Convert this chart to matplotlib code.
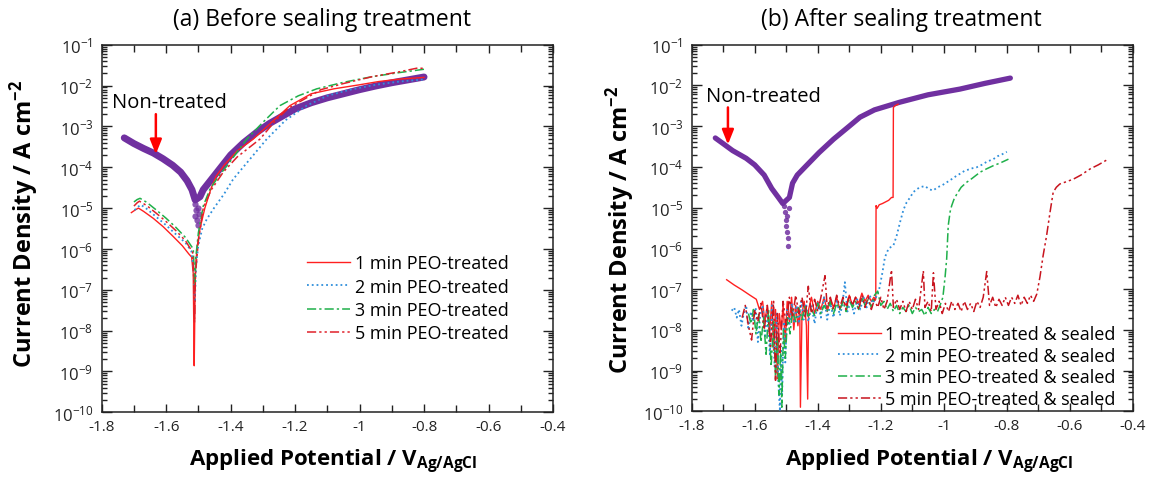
import matplotlib.pyplot as plt
from matplotlib.ticker import MultipleLocator, LogLocator, FuncFormatter, NullFormatter
import numpy as np

plt.rcParams['font.family'] = ['Open Sans', 'DejaVu Sans']
plt.rcParams['mathtext.default'] = 'regular'
plt.rcParams['axes.unicode_minus'] = False

# all curves stored as (potential V, log10 current density A/cm2)

# (a) before sealing
bare_a = [(-1.73, -3.28), (-1.70, -3.42), (-1.67, -3.54), (-1.64, -3.65), (-1.61, -3.79),
          (-1.58, -3.95), (-1.555, -4.12), (-1.535, -4.33), (-1.52, -4.55), (-1.51, -4.8),
          (-1.495, -4.72), (-1.485, -4.55), (-1.47, -4.4), (-1.45, -4.2), (-1.43, -4.0),
          (-1.40, -3.7), (-1.36, -3.4), (-1.32, -3.15), (-1.28, -2.93), (-1.24, -2.75),
          (-1.20, -2.57), (-1.15, -2.42), (-1.10, -2.3), (-1.05, -2.2), (-1.00, -2.1),
          (-0.95, -2.01), (-0.90, -1.93), (-0.85, -1.86), (-0.80, -1.79)]
bare_a_dip = [(-1.512, -4.9), (-1.508, -5.05), (-1.51, -5.2), (-1.505, -5.3),
              (-1.502, -5.42), (-1.498, -5.15), (-1.50, -5.0)]

peo1_a = [(-1.708, -5.11), (-1.695, -5.04), (-1.686, -5.0), (-1.67, -5.08), (-1.64, -5.25),
          (-1.61, -5.45), (-1.58, -5.68), (-1.55, -5.92), (-1.53, -6.12), (-1.521, -6.2),
          (-1.516, -6.6), (-1.513, -8.86), (-1.511, -7.5), (-1.509, -6.4), (-1.503, -5.9),
          (-1.495, -5.5), (-1.48, -5.0), (-1.46, -4.5), (-1.445, -4.22), (-1.42, -3.95),
          (-1.38, -3.6), (-1.33, -3.31), (-1.28, -2.95), (-1.216, -2.49), (-1.15, -2.2),
          (-1.08, -2.08), (-1.00, -1.98), (-0.94, -1.9), (-0.875, -1.84), (-0.80, -1.8)]
peo2_a = [(-1.698, -5.05), (-1.688, -4.97), (-1.678, -4.92), (-1.66, -5.02), (-1.63, -5.22),
          (-1.60, -5.42), (-1.57, -5.64), (-1.54, -5.85), (-1.522, -6.05), (-1.515, -6.5),
          (-1.511, -7.3), (-1.507, -6.4), (-1.50, -5.9), (-1.488, -5.5), (-1.474, -5.27),
          (-1.45, -4.98), (-1.42, -4.65), (-1.392, -4.29), (-1.34, -3.8), (-1.288, -3.31),
          (-1.23, -2.85), (-1.164, -2.49), (-1.10, -2.25), (-1.03, -2.1), (-0.95, -1.98),
          (-0.875, -1.9), (-0.80, -1.85)]
peo3_a = [(-1.70, -4.85), (-1.69, -4.79), (-1.681, -4.76), (-1.66, -4.86), (-1.63, -5.05),
          (-1.60, -5.25), (-1.57, -5.47), (-1.54, -5.72), (-1.516, -6.0), (-1.513, -6.5),
          (-1.511, -7.0), (-1.508, -6.2), (-1.50, -5.6), (-1.485, -4.95), (-1.465, -4.55),
          (-1.44, -4.25), (-1.41, -3.95), (-1.35, -3.31), (-1.30, -2.9), (-1.247, -2.49),
          (-1.19, -2.25), (-1.133, -2.08), (-1.05, -1.92), (-0.96, -1.78), (-0.875, -1.68),
          (-0.80, -1.6)]
peo5_a = [(-1.70, -4.95), (-1.69, -4.87), (-1.683, -4.83), (-1.66, -4.94), (-1.63, -5.13),
          (-1.60, -5.33), (-1.57, -5.55), (-1.54, -5.8), (-1.518, -6.08), (-1.514, -6.8),
          (-1.512, -7.8), (-1.509, -6.6), (-1.50, -5.8), (-1.485, -5.0), (-1.46, -4.55),
          (-1.423, -4.12), (-1.38, -3.75), (-1.309, -3.31), (-1.26, -2.85), (-1.22, -2.55),
          (-1.16, -2.28), (-1.12, -2.1), (-1.05, -1.95), (-0.96, -1.78), (-0.875, -1.66),
          (-0.82, -1.57), (-0.80, -1.58)]

# (b) after sealing
bare_b = [(-1.725, -3.29), (-1.70, -3.43), (-1.67, -3.6), (-1.627, -3.79), (-1.60, -3.95),
          (-1.57, -4.2), (-1.546, -4.53), (-1.525, -4.75), (-1.511, -4.9), (-1.49, -4.75),
          (-1.48, -4.4), (-1.465, -4.2), (-1.44, -4.0), (-1.396, -3.65), (-1.35, -3.32),
          (-1.30, -3.0), (-1.266, -2.78), (-1.22, -2.6), (-1.139, -2.41), (-1.05, -2.23),
          (-0.949, -2.09), (-0.87, -1.95), (-0.789, -1.82)]
bare_b_dip = [(-1.508, -4.95), (-1.505, -5.1), (-1.502, -5.3), (-1.50, -5.44),
              (-1.497, -5.6), (-1.495, -5.75), (-1.494, -5.93), (-1.498, -5.2), (-1.49, -5.0)]

peo1_b = [(-1.689, -6.77), (-1.665, -6.9), (-1.64, -7.02), (-1.615, -7.15), (-1.595, -7.25),
          (-1.585, -7.5), (-1.575, -7.3), (-1.568, -7.8), (-1.56, -7.4), (-1.553, -8.1),
          (-1.546, -7.3), (-1.54, -8.5), (-1.534, -7.5), (-1.528, -9.2), (-1.522, -7.6),
          (-1.516, -8.0), (-1.51, -7.4), (-1.503, -8.3), (-1.497, -7.3), (-1.49, -7.8),
          (-1.483, -7.2), (-1.476, -8.0), (-1.47, -7.4), (-1.463, -7.9), (-1.457, -7.5),
          (-1.455, -9.9), (-1.45, -7.6), (-1.443, -7.3), (-1.436, -7.9), (-1.432, -9.7),
          (-1.429, -7.5), (-1.42, -7.2), (-1.41, -7.6), (-1.40, -7.3), (-1.39, -7.5),
          (-1.38, -7.2), (-1.37, -7.55), (-1.36, -7.25), (-1.35, -7.45), (-1.34, -7.2),
          (-1.33, -7.5), (-1.32, -7.3), (-1.31, -7.4), (-1.30, -7.15), (-1.29, -7.4),
          (-1.28, -7.2), (-1.27, -7.35), (-1.26, -7.1), (-1.25, -7.3), (-1.24, -7.15),
          (-1.23, -7.3), (-1.222, -7.2), (-1.216, -7.25), (-1.215, -4.95), (-1.212, -5.02),
          (-1.205, -4.93), (-1.195, -4.9), (-1.185, -4.86), (-1.175, -4.82), (-1.166, -4.75),
          (-1.161, -4.75), (-1.160, -2.54), (-1.155, -2.5), (-1.145, -2.46)]
peo2_b = [(-1.673, -7.53), (-1.665, -7.45), (-1.657, -7.7), (-1.65, -7.5), (-1.642, -7.9),
          (-1.635, -7.6), (-1.627, -7.4), (-1.62, -8.0), (-1.612, -7.55), (-1.605, -7.8),
          (-1.597, -7.45), (-1.59, -8.3), (-1.582, -7.6), (-1.575, -7.4), (-1.567, -8.2),
          (-1.56, -7.5), (-1.552, -8.6), (-1.545, -7.4), (-1.537, -8.9), (-1.53, -7.6),
          (-1.525, -9.3), (-1.52, -10.0), (-1.517, -8.4), (-1.513, -9.6), (-1.508, -7.8),
          (-1.503, -8.8), (-1.497, -7.5), (-1.49, -7.9), (-1.482, -7.35), (-1.475, -7.8),
          (-1.467, -7.4), (-1.46, -7.85), (-1.452, -7.3), (-1.445, -7.75), (-1.437, -7.35),
          (-1.43, -7.8), (-1.42, -7.4), (-1.41, -7.85), (-1.40, -7.3), (-1.39, -7.7),
          (-1.38, -7.2), (-1.37, -7.75), (-1.36, -7.35), (-1.35, -7.7), (-1.34, -7.25),
          (-1.33, -7.65), (-1.322, -7.4), (-1.314, -6.83), (-1.306, -7.55), (-1.295, -7.3),
          (-1.285, -7.6), (-1.275, -7.25), (-1.265, -7.5), (-1.255, -7.2), (-1.245, -7.45),
          (-1.235, -7.15), (-1.225, -7.35), (-1.215, -7.2), (-1.205, -7.0), (-1.195, -6.6),
          (-1.187, -6.22), (-1.175, -6.0), (-1.160, -5.93), (-1.150, -5.7), (-1.139, -5.36),
          (-1.128, -5.05), (-1.118, -4.87), (-1.107, -4.75), (-1.097, -4.62), (-1.086, -4.55),
          (-1.076, -4.50), (-1.06, -4.47), (-1.046, -4.55), (-1.034, -4.58), (-1.02, -4.5),
          (-1.005, -4.45), (-0.991, -4.38), (-0.975, -4.3), (-0.96, -4.22), (-0.949, -4.17),
          (-0.935, -4.1), (-0.92, -4.06), (-0.908, -4.03), (-0.896, -4.01), (-0.88, -3.95),
          (-0.865, -3.88), (-0.853, -3.84), (-0.843, -3.81), (-0.83, -3.74), (-0.815, -3.69),
          (-0.80, -3.63)]
peo3_b = [(-1.62, -7.6), (-1.612, -7.85), (-1.604, -7.5), (-1.596, -8.1), (-1.588, -7.6),
          (-1.58, -8.3), (-1.572, -7.7), (-1.564, -8.6), (-1.556, -7.5), (-1.548, -8.9),
          (-1.54, -7.8), (-1.534, -9.2), (-1.528, -8.2), (-1.523, -9.6), (-1.518, -8.5),
          (-1.514, -9.9), (-1.509, -8.0), (-1.503, -8.7), (-1.496, -7.7), (-1.488, -8.1),
          (-1.48, -7.5), (-1.47, -7.8), (-1.46, -7.45), (-1.45, -7.75), (-1.44, -7.4),
          (-1.43, -7.7), (-1.42, -7.5), (-1.41, -7.65), (-1.40, -7.35), (-1.39, -7.6),
          (-1.38, -7.4), (-1.37, -7.55), (-1.36, -7.3), (-1.35, -7.6), (-1.34, -7.35),
          (-1.33, -7.5), (-1.32, -7.3), (-1.31, -7.55), (-1.30, -7.25), (-1.29, -7.45),
          (-1.28, -7.3), (-1.27, -7.5), (-1.26, -7.2), (-1.25, -7.4), (-1.24, -7.25),
          (-1.23, -7.45), (-1.22, -7.15), (-1.21, -7.05), (-1.20, -7.4), (-1.19, -7.3),
          (-1.18, -7.5), (-1.17, -7.35), (-1.16, -7.55), (-1.15, -7.4), (-1.14, -7.6),
          (-1.13, -7.45), (-1.12, -7.55), (-1.11, -7.4), (-1.10, -7.6), (-1.09, -7.45),
          (-1.08, -7.55), (-1.07, -7.5), (-1.06, -7.65), (-1.05, -7.45), (-1.04, -7.6),
          (-1.03, -7.5), (-1.02, -7.55), (-1.012, -7.4), (-1.003, -7.2), (-0.996, -6.7),
          (-0.991, -6.26), (-0.986, -5.44), (-0.98, -5.1), (-0.975, -4.95), (-0.968, -4.8),
          (-0.959, -4.67), (-0.945, -4.5), (-0.928, -4.38), (-0.91, -4.28), (-0.885, -4.13),
          (-0.865, -4.05), (-0.843, -3.97), (-0.82, -3.9), (-0.795, -3.81)]
peo5_b = [(-1.64, -7.7), (-1.63, -7.4), (-1.62, -7.9), (-1.61, -8.25), (-1.60, -7.5),
          (-1.59, -7.8), (-1.58, -7.35), (-1.57, -8.0), (-1.56, -7.4), (-1.55, -8.4),
          (-1.54, -7.3), (-1.534, -9.24), (-1.528, -7.6), (-1.52, -8.6), (-1.51, -7.3),
          (-1.50, -7.9), (-1.49, -7.2), (-1.48, -7.7), (-1.47, -7.15), (-1.46, -7.6),
          (-1.45, -7.2), (-1.44, -7.7), (-1.43, -6.93), (-1.42, -7.6), (-1.41, -7.25),
          (-1.40, -7.55), (-1.39, -7.2), (-1.377, -6.67), (-1.37, -7.45), (-1.36, -7.2),
          (-1.35, -7.5), (-1.34, -7.15), (-1.33, -7.45), (-1.32, -7.2), (-1.31, -7.5),
          (-1.30, -7.15), (-1.29, -7.4), (-1.28, -7.2), (-1.27, -7.5), (-1.26, -7.15),
          (-1.25, -7.45), (-1.24, -7.2), (-1.23, -7.5), (-1.22, -7.25), (-1.21, -7.45),
          (-1.20, -7.2), (-1.19, -7.5), (-1.18, -7.3), (-1.166, -6.53), (-1.16, -7.45),
          (-1.15, -7.25), (-1.14, -7.5), (-1.13, -7.3), (-1.12, -7.55), (-1.11, -7.3),
          (-1.10, -7.5), (-1.09, -7.25), (-1.08, -7.5), (-1.065, -6.55), (-1.06, -7.45),
          (-1.05, -7.3), (-1.04, -7.55), (-1.033, -6.6), (-1.025, -7.5), (-1.015, -7.3),
          (-1.005, -7.6), (-0.995, -7.35), (-0.985, -7.55), (-0.975, -7.3), (-0.965, -7.5),
          (-0.955, -7.35), (-0.945, -7.55), (-0.935, -7.3), (-0.925, -7.5), (-0.915, -7.35),
          (-0.905, -7.55), (-0.895, -7.3), (-0.885, -7.45), (-0.875, -7.2), (-0.864, -6.57),
          (-0.855, -7.4), (-0.845, -7.2), (-0.835, -7.45), (-0.825, -7.25), (-0.815, -7.4),
          (-0.805, -7.2), (-0.795, -7.4), (-0.785, -7.2), (-0.775, -7.35), (-0.765, -7.15),
          (-0.755, -7.4), (-0.745, -7.2), (-0.735, -7.35), (-0.725, -7.15), (-0.715, -7.3),
          (-0.705, -7.12), (-0.695, -6.7), (-0.685, -6.18), (-0.674, -5.69), (-0.663, -5.11),
          (-0.653, -4.62), (-0.643, -4.5), (-0.632, -4.42), (-0.61, -4.36), (-0.589, -4.30),
          (-0.565, -4.2), (-0.536, -4.05), (-0.51, -3.95), (-0.483, -3.83)]

labels_a = ['1 min PEO-treated', '2 min PEO-treated', '3 min PEO-treated', '5 min PEO-treated']
labels_b = [s + ' & sealed' for s in labels_a]

purple = '#7030A0'
red1 = '#FF2020'
blue = '#2F8FDB'
green = '#1FB04A'
red5_a = '#E0202A'
red5_b = '#C8141E'
ls_dashdot = (0, (6, 2, 1.5, 2))
ls_dashdotdot = (0, (6, 2, 1.5, 2, 1.5, 2))


def xy(pts):
    a = np.array(pts)
    return a[:, 0], 10 ** a[:, 1]


fig = plt.figure(figsize=(11.53, 4.81), dpi=100)
ax_a = fig.add_axes([0.0882, 0.1407, 0.3914, 0.7642])
ax_b = fig.add_axes([0.5999, 0.1428, 0.3827, 0.7622])

# panel a
ax_a.plot(*xy(bare_a), color=purple, lw=5, solid_capstyle='round', zorder=2)
ax_a.plot(*xy(bare_a_dip), 'o', color=purple, ms=4.5, alpha=0.8, mec='none', zorder=2)
h = []
h += ax_a.plot(*xy(peo1_a), color=red1, lw=1.0, zorder=3)
h += ax_a.plot(*xy(peo2_a), color=blue, lw=1.3, ls=':', zorder=3)
h += ax_a.plot(*xy(peo3_a), color=green, lw=1.1, ls=ls_dashdot, zorder=3)
h += ax_a.plot(*xy(peo5_a), color=red5_a, lw=1.1, ls=ls_dashdotdot, zorder=3)
ax_a.legend(h, labels_a, loc='upper left', bbox_to_anchor=(0.435, 0.455), frameon=False,
            fontsize=13, handlelength=2.4, handletextpad=0.25, labelspacing=0.3, borderpad=0)

# panel b
ax_b.plot(*xy(bare_b), color=purple, lw=3.8, solid_capstyle='round', zorder=2)
ax_b.plot(*xy(bare_b_dip), 'o', color=purple, ms=3.8, alpha=0.85, mec='none', zorder=2)
h = []
h += ax_b.plot(*xy(peo1_b), color=red1, lw=1.0, zorder=3)
h += ax_b.plot(*xy(peo2_b), color=blue, lw=1.3, ls=':', zorder=3)
h += ax_b.plot(*xy(peo3_b), color=green, lw=1.1, ls=ls_dashdot, zorder=3)
h += ax_b.plot(*xy(peo5_b), color=red5_b, lw=1.1, ls=ls_dashdotdot, zorder=3)
ax_b.legend(h, labels_b, loc='upper left', bbox_to_anchor=(0.31, 0.26), frameon=False,
            fontsize=13, handlelength=2.4, handletextpad=0.25, labelspacing=0.2, borderpad=0)

# "Non-treated" arrows
ax_a.annotate('', xy=(-1.632, 10 ** -3.68), xytext=(-1.632, 10 ** -2.70),
              arrowprops=dict(arrowstyle='-|>,head_length=0.55,head_width=0.22', color='#FF0000',
                              lw=1.8, shrinkA=0, shrinkB=0, mutation_scale=16))
ax_a.text(-1.591, 10 ** -2.40, 'Non-treated', ha='center', va='center', fontsize=14.5)
ax_b.annotate('', xy=(-1.685, 10 ** -3.45), xytext=(-1.685, 10 ** -2.54),
              arrowprops=dict(arrowstyle='-|>,head_length=0.55,head_width=0.22', color='#FF0000',
                              lw=1.8, shrinkA=0, shrinkB=0, mutation_scale=16))
ax_b.text(-1.572, 10 ** -2.27, 'Non-treated', ha='center', va='center', fontsize=14.5)

for ax in (ax_a, ax_b):
    ax.set_yscale('log')
    ax.set_xlim(-1.8, -0.4)
    ax.set_ylim(1e-10, 1e-1)
    ax.xaxis.set_major_locator(MultipleLocator(0.2))
    ax.xaxis.set_minor_locator(MultipleLocator(0.1))
    ax.xaxis.set_major_formatter(FuncFormatter(lambda v, p: '%g' % round(v, 1)))
    ax.yaxis.set_major_locator(LogLocator(base=10, numticks=20))
    ax.yaxis.set_minor_locator(LogLocator(base=10, subs=np.arange(2, 10), numticks=20))
    ax.yaxis.set_minor_formatter(NullFormatter())
    ax.yaxis.set_major_formatter(FuncFormatter(lambda v, p: r'$10^{%d}$' % round(np.log10(v))))
    ax.tick_params(which='both', direction='in', top=True, right=True, colors='#222222',
                   width=1.0)
    ax.tick_params(axis='x', which='major', length=6, pad=5, labelsize=11)
    ax.tick_params(axis='x', which='minor', length=5)
    ax.tick_params(axis='y', which='major', length=7, pad=6, labelsize=12)
    ax.tick_params(axis='y', which='minor', length=3.5)
    for sp in ax.spines.values():
        sp.set_linewidth(1.1)
        sp.set_color('#222222')

fig.text(0.2793, 0.958, '(a) Before sealing treatment', ha='center', va='center', fontsize=16.5)
fig.text(0.7815, 0.958, '(b) After sealing treatment', ha='center', va='center', fontsize=16.5)
ylab = 'Current Density / A cm$^{-2}$'
xlab = 'Applied Potential / V$_{Ag/AgCl}$'
fig.text(0.0208, 0.535, ylab, rotation=90, ha='center', va='center', fontsize=17, fontweight='bold')
fig.text(0.5377, 0.522, ylab, rotation=90, ha='center', va='center', fontsize=17, fontweight='bold')
fig.text(0.2888, 0.0395, xlab, ha='center', va='center', fontsize=16, fontweight='bold')
fig.text(0.8057, 0.0395, xlab, ha='center', va='center', fontsize=16, fontweight='bold')

fig.savefig('out.png', dpi=100)
